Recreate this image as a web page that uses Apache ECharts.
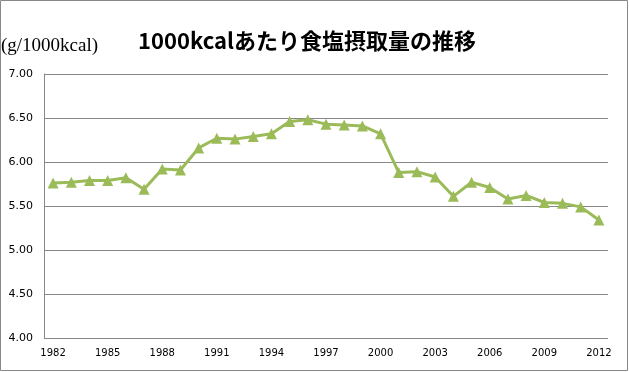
<!DOCTYPE html>
<html><head><meta charset="utf-8">
<script src="https://cdn.jsdelivr.net/npm/echarts@6/dist/echarts.min.js"></script>
<style>html,body{margin:0;padding:0;background:#fff}#c{width:629px;height:372px}</style>
</head><body><div id="c"></div>
<script>
const years = ['1982','1983','1984','1985','1986','1987','1988','1989','1990','1991','1992','1993','1994','1995','1996','1997','1998','1999','2000','2001','2002','2003','2004','2005','2006','2007','2008','2009','2010','2011','2012'];
const saltPer1000kcal = [5.76,5.77,5.79,5.79,5.82,5.69,5.92,5.91,6.16,6.27,6.26,6.29,6.32,6.46,6.48,6.43,6.42,6.41,6.32,5.88,5.89,5.83,5.61,5.77,5.71,5.58,5.62,5.54,5.53,5.49,5.34];
const titleText = '1000kcalあたり食塩摂取量の推移';
const unitText = '(g/1000kcal)';

const chart = echarts.init(document.getElementById('c'), null, {renderer:'canvas'});
chart.setOption({
  animation:false,
  backgroundColor:'#fff',
  title:{text:titleText,left:302,top:25,textAlign:'center',
    textStyle:{fontFamily:'Noto Sans CJK JP',fontWeight:'bold',fontSize:22,color:'#000'}},
  graphic:[
    {type:'rect',shape:{x:0.5,y:0.5,width:627,height:370},style:{fill:null,stroke:'#888',lineWidth:1},silent:true},
    {type:'text',left:1,top:37,style:{text:unitText,fontFamily:'Liberation Serif',fontSize:19,fill:'#000'}}
  ],
  grid:{left:44,right:21,top:74,bottom:34,containLabel:false},
  xAxis:{type:'category',data:years,boundaryGap:true,
    axisLine:{show:false},axisTick:{show:false},
    axisLabel:{interval:2,fontFamily:'DejaVu Sans',fontSize:10,color:'#000',margin:10},
    splitLine:{show:false}},
  yAxis:{type:'value',min:4,max:7,interval:0.5,
    axisLine:{show:true,lineStyle:{color:'#888'}},axisTick:{show:false},
    axisLabel:{formatter:v=>v.toFixed(2),fontFamily:'DejaVu Sans',fontSize:11,color:'#000',margin:11},
    splitLine:{lineStyle:{color:'#888',width:1}}},
  series:[{type:'line',data:saltPer1000kcal,
    lineStyle:{color:'#9BBB59',width:3},
    itemStyle:{color:'#9BBB59'},
    symbol:'triangle',symbolSize:11,showSymbol:true}]
});
</script></body></html>
